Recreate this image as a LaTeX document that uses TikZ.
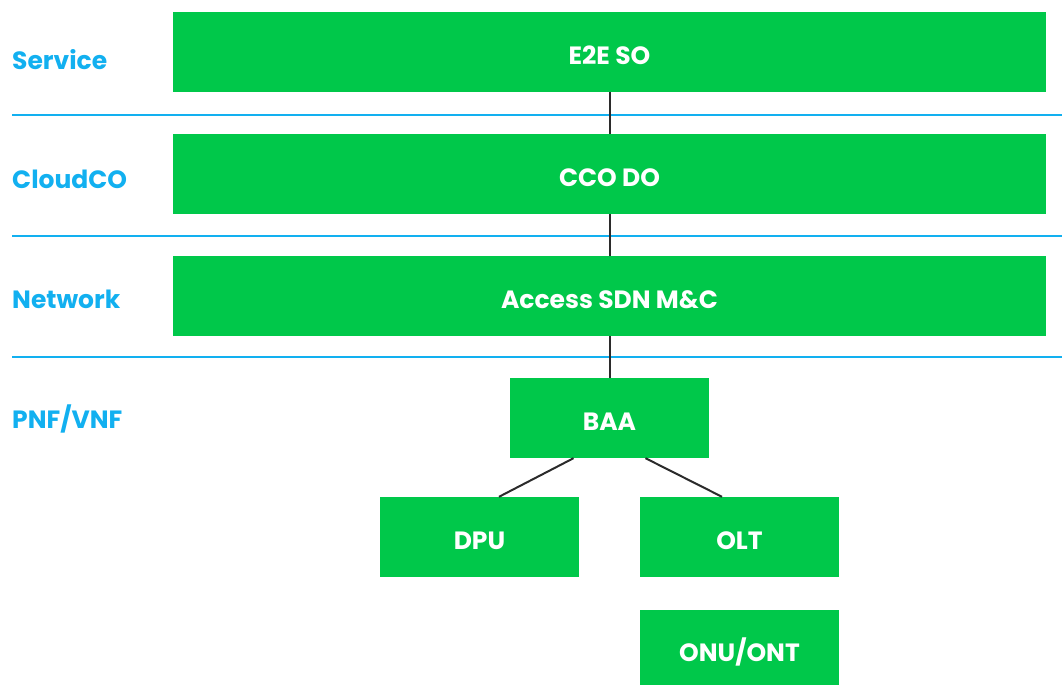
\documentclass[tikz,border=0pt]{standalone}
\usepackage{fontspec}
\setmainfont{Poppins}
\definecolor{boxgreen}{HTML}{00C84A}
\definecolor{layerblue}{HTML}{12B0F0}
\definecolor{linkgray}{HTML}{2B2B2B}
\begin{document}
\begin{tikzpicture}[x=1pt,y=-1pt,
  box/.style={fill=boxgreen,draw=none,inner sep=0pt,font=\fontsize{25}{28}\selectfont\bfseries,text=white,text height=24.5pt,text depth=0pt},
  layer/.style={anchor=west,inner sep=0pt,font=\fontsize{25}{28}\selectfont\bfseries,text=layerblue,text height=17.5pt,text depth=0pt},
  sep/.style={draw=layerblue,line width=2pt},
  link/.style={draw=linkgray,line width=2pt}]
\useasboundingbox (0,0) rectangle (1062,685);
% layer separators
\coordinate (s1a) at (12,115); \coordinate (s1b) at (1062,115);
\coordinate (s2a) at (12,236); \coordinate (s2b) at (1062,236);
\coordinate (s3a) at (12,357); \coordinate (s3b) at (1062,357);
\draw[sep] (s1a) -- (s1b);
\draw[sep] (s2a) -- (s2b);
\draw[sep] (s3a) -- (s3b);
% layer labels
\node[layer] (lsvc) at (12,61) {Service};
\node[layer] (lcco) at (12,179.5) {CloudCO};
\node[layer] (lnet) at (12,300) {Network};
\node[layer] (lpnf) at (12,419.5) {PNF/VNF};
% boxes
\node[box,minimum width=873,minimum height=80] (e2e) at (609.5,52) {E2E SO};
\node[box,minimum width=873,minimum height=80] (cco) at (609.5,174) {CCO DO};
\node[box,minimum width=873,minimum height=80] (sdn) at (609.5,296) {Access SDN M\&C};
\node[box,minimum width=199,minimum height=80] (baa) at (609.5,418) {BAA};
\node[box,minimum width=199,minimum height=80] (dpu) at (479.5,537) {DPU};
\node[box,minimum width=199,minimum height=80] (olt) at (739.5,537) {OLT};
\node[box,minimum width=199,minimum height=75,text height=28.5pt] (onu) at (739.5,647.5) {ONU/ONT};
% connectors
\draw[link] (e2e.south) -- (cco.north);
\draw[link] (cco.south) -- (sdn.north);
\draw[link] (sdn.south) -- (baa.north);
\draw[link] ([xshift=-36]baa.south) -- ([xshift=19.5]dpu.north);
\draw[link] ([xshift=36]baa.south) -- ([xshift=-17.5]olt.north);
\end{tikzpicture}
\end{document}
